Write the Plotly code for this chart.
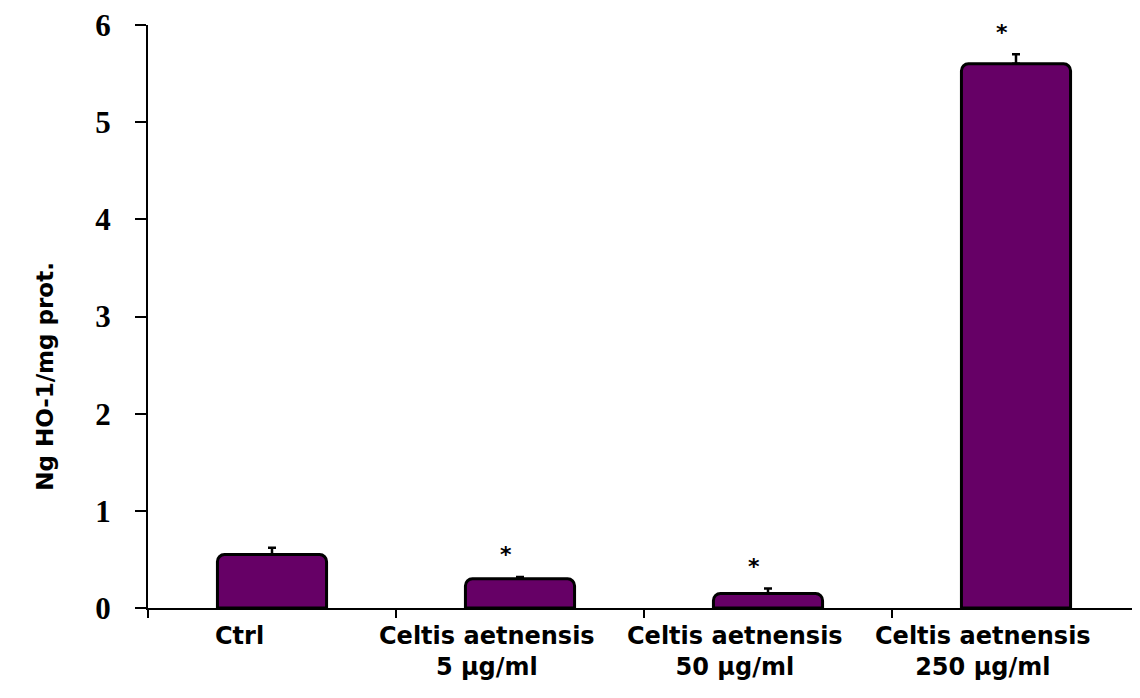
import plotly.graph_objects as go

categories = ["Ctrl", "Celtis aetnensis<br>5 µg/ml", "Celtis aetnensis<br>50 µg/ml", "Celtis aetnensis<br>250 µg/ml"]
values = [0.55, 0.30, 0.15, 5.60]
errors = [0.07, 0.02, 0.05, 0.10]
significance = ["", "*", "*", "*"]
y_ticks = [0, 1, 2, 3, 4, 5, 6]

xpos = list(range(len(categories)))
boundaries = [i - 0.5 for i in range(len(categories) + 1)]

fig = go.Figure()
fig.add_trace(go.Bar(
    x=xpos, y=values, width=0.44,
    marker=dict(color="#660066", line=dict(color="black", width=3), cornerradius=7),
    error_y=dict(type="data", symmetric=False, array=errors, arrayminus=[0]*len(errors),
                 color="black", thickness=2.5, width=4),
    showlegend=False,
    cliponaxis=False,
    hovertext=categories,
))

for i, v, e, s in zip(xpos, values, errors, significance):
    if s:
        fig.add_annotation(x=i, y=v + e, text=s, showarrow=False, yshift=22, xshift=-14,
                           font=dict(family="DejaVu Sans", size=22, color="black", weight="bold"))

# category labels (offset left as in the original)
for i, c in zip(xpos, categories):
    fig.add_annotation(x=i, xref="x", yref="paper", y=0, text=c, showarrow=False,
                       xanchor="center", yanchor="top", yshift=-12, xshift=-33,
                       font=dict(family="DejaVu Sans", size=24, color="black", weight="bold"))

fig.add_annotation(xref="paper", yref="paper", x=-0.104, y=0.398, text="Ng HO-1/mg prot.",
                   textangle=-90, showarrow=False, xanchor="center", yanchor="middle",
                   font=dict(family="DejaVu Sans", size=23, color="black", weight="bold"))

fig.update_layout(
    width=1132, height=690,
    margin=dict(l=140, r=0, t=17, b=90, pad=0),
    paper_bgcolor="white", plot_bgcolor="white",
    xaxis=dict(range=[-0.5, len(categories) - 0.5], tickvals=boundaries,
               ticktext=[""] * len(boundaries), ticks="outside", ticklen=8, tickwidth=2,
               tickcolor="black", showline=True, linecolor="black", linewidth=2,
               showgrid=False, zeroline=False),
    yaxis=dict(range=[0, 6], tickvals=y_ticks, ticks="outside", ticklen=11, tickwidth=2,
               tickcolor="black", showline=True, linecolor="black", linewidth=2, showgrid=False,
               zeroline=False, ticklabelstandoff=18, ticklabeloverflow="allow",
               tickfont=dict(family="Liberation Serif", size=31, color="black", weight="bold")),
)

fig.write_html("out.html")
